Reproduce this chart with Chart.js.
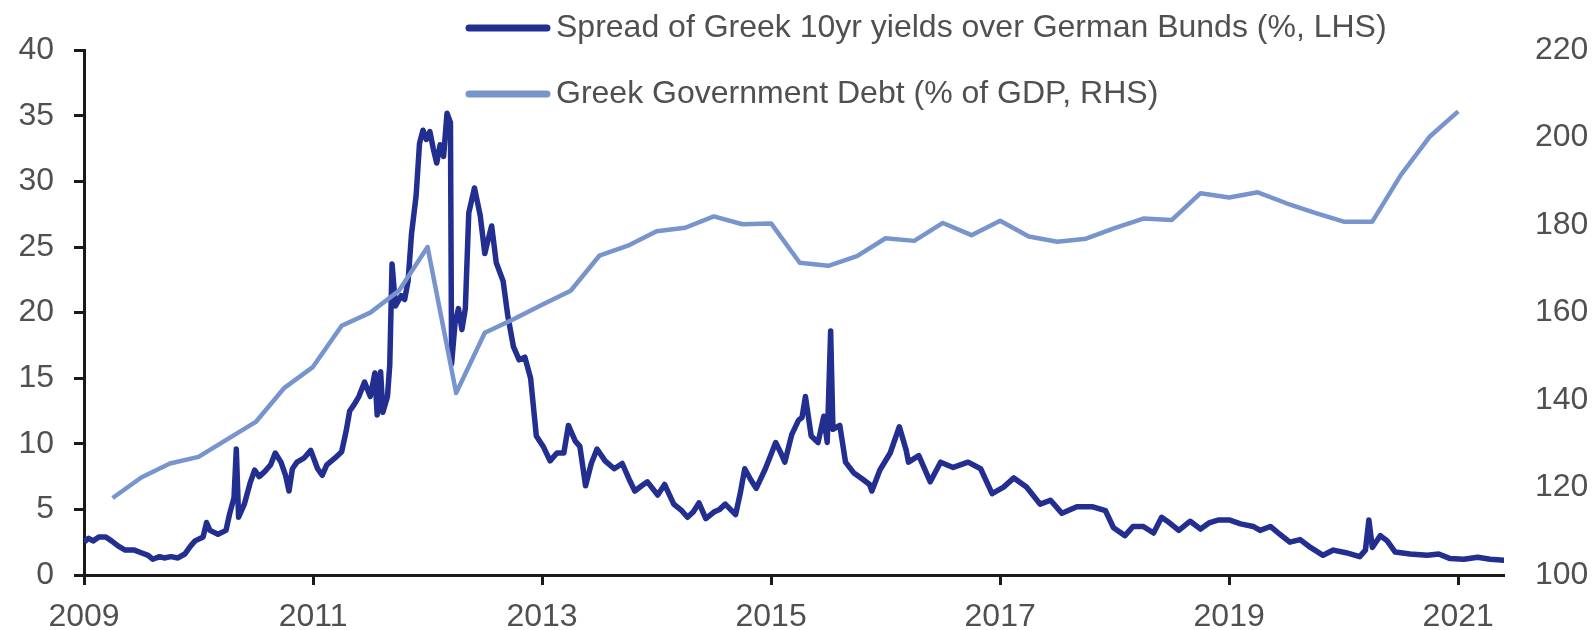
<!DOCTYPE html>
<html>
<head>
<meta charset="utf-8">
<script src="https://cdn.jsdelivr.net/npm/chart.js@4.4.1/dist/chart.umd.min.js"></script>
<style>
  html, body { margin: 0; padding: 0; background: #fff; }
  #wrap { width: 1596px; height: 630px; }
</style>
</head>
<body>
<div id="wrap"><canvas id="chart" width="1596" height="630"></canvas></div>
<script>
// Series names (legend)
const seriesNames = [
  'Spread of Greek 10yr yields over German Bunds (%, LHS)',
  'Greek Government Debt (% of GDP, RHS)'
];

// x-axis tick labels (years)
const yearTicks = [2009, 2011, 2013, 2015, 2017, 2019, 2021];

// Spread of Greek 10yr yields over Bunds, %
const spreadDates = [
  2009.00, 2009.04, 2009.08, 2009.13, 2009.19, 2009.24, 2009.30, 2009.36, 2009.44, 2009.50,
  2009.56, 2009.60, 2009.66, 2009.70, 2009.76, 2009.82, 2009.88, 2009.93, 2009.97, 2010.04,
  2010.07, 2010.10, 2010.17, 2010.24, 2010.27, 2010.31, 2010.33, 2010.35, 2010.40, 2010.45,
  2010.49, 2010.53, 2010.58, 2010.63, 2010.67, 2010.72, 2010.76, 2010.79, 2010.82, 2010.86,
  2010.92, 2010.98, 2011.04, 2011.08, 2011.12, 2011.19, 2011.25, 2011.29, 2011.32, 2011.36,
  2011.40, 2011.45, 2011.50, 2011.54, 2011.56, 2011.59, 2011.61, 2011.65, 2011.67, 2011.69,
  2011.72, 2011.77, 2011.80, 2011.83, 2011.86, 2011.90, 2011.93, 2011.96, 2011.99, 2012.02,
  2012.05, 2012.08, 2012.11, 2012.14, 2012.17, 2012.20, 2012.21, 2012.24, 2012.27, 2012.30,
  2012.33, 2012.36, 2012.41, 2012.46, 2012.50, 2012.53, 2012.56, 2012.60, 2012.66, 2012.70,
  2012.75, 2012.80, 2012.85, 2012.90, 2012.95, 2013.01, 2013.07, 2013.13, 2013.19, 2013.23,
  2013.29, 2013.33, 2013.38, 2013.43, 2013.48, 2013.55, 2013.63, 2013.70, 2013.76, 2013.81,
  2013.87, 2013.92, 2014.01, 2014.07, 2014.15, 2014.22, 2014.27, 2014.32, 2014.37, 2014.43,
  2014.50, 2014.55, 2014.60, 2014.69, 2014.73, 2014.77, 2014.82, 2014.87, 2014.95, 2015.00,
  2015.04, 2015.08, 2015.12, 2015.18, 2015.24, 2015.27, 2015.30, 2015.35, 2015.41, 2015.46,
  2015.49, 2015.52, 2015.54, 2015.60, 2015.65, 2015.72, 2015.80, 2015.86, 2015.88, 2015.95,
  2016.04, 2016.12, 2016.18, 2016.20, 2016.29, 2016.39, 2016.48, 2016.59, 2016.72, 2016.83,
  2016.93, 2017.03, 2017.12, 2017.23, 2017.35, 2017.44, 2017.54, 2017.67, 2017.81, 2017.92,
  2017.99, 2018.09, 2018.16, 2018.25, 2018.34, 2018.41, 2018.46, 2018.56, 2018.66, 2018.75,
  2018.83, 2018.91, 2019.00, 2019.10, 2019.21, 2019.27, 2019.36, 2019.43, 2019.53, 2019.62,
  2019.71, 2019.82, 2019.91, 2020.02, 2020.14, 2020.19, 2020.22, 2020.25, 2020.32, 2020.38,
  2020.45, 2020.58, 2020.73, 2020.83, 2020.93, 2021.05, 2021.17, 2021.28, 2021.41
];
const spreadValues = [
  2.5, 2.8, 2.6, 2.9, 2.9, 2.6, 2.2, 1.9, 1.9, 1.7,
  1.5, 1.2, 1.4, 1.3, 1.4, 1.3, 1.6, 2.2, 2.6, 2.9,
  4.0, 3.4, 3.1, 3.4, 4.6, 5.9, 9.6, 4.4, 5.4, 7.0,
  8.0, 7.5, 7.9, 8.4, 9.3, 8.6, 7.6, 6.4, 8.1, 8.6,
  8.9, 9.5, 8.1, 7.6, 8.4, 8.9, 9.4, 11.0, 12.5, 13.0,
  13.6, 14.7, 13.6, 15.4, 12.2, 15.5, 12.4, 13.6, 16.0, 23.7,
  20.5, 21.3, 21.0, 22.4, 26.0, 28.9, 32.9, 33.9, 33.2, 33.8,
  32.5, 31.4, 32.8, 31.9, 35.2, 34.5, 16.1, 19.2, 20.3, 18.7,
  20.3, 27.6, 29.5, 27.4, 24.5, 25.6, 26.6, 23.8, 22.4, 19.8,
  17.4, 16.4, 16.6, 15.0, 10.6, 9.8, 8.7, 9.3, 9.3, 11.4,
  10.2, 9.8, 6.8, 8.5, 9.6, 8.7, 8.1, 8.5, 7.3, 6.4,
  6.8, 7.1, 6.1, 6.9, 5.4, 4.9, 4.4, 4.8, 5.5, 4.3,
  4.8, 5.0, 5.4, 4.6, 6.2, 8.1, 7.3, 6.6, 8.1, 9.2,
  10.1, 9.4, 8.6, 10.7, 11.8, 12.0, 13.6, 10.6, 10.1, 12.1,
  10.1, 18.6, 11.1, 11.4, 8.6, 7.8, 7.3, 6.9, 6.4, 8.0,
  9.3, 11.3, 9.5, 8.6, 9.1, 7.1, 8.6, 8.2, 8.6, 8.1,
  6.2, 6.7, 7.4, 6.7, 5.4, 5.7, 4.7, 5.2, 5.2, 4.9,
  3.6, 3.0, 3.7, 3.7, 3.2, 4.4, 4.1, 3.4, 4.1, 3.5,
  4.0, 4.2, 4.2, 3.9, 3.7, 3.4, 3.7, 3.2, 2.5, 2.7,
  2.1, 1.5, 1.9, 1.7, 1.4, 1.9, 4.2, 2.1, 3.0, 2.6,
  1.75, 1.6, 1.5, 1.6, 1.25, 1.2, 1.35, 1.2, 1.12
];

// Greek government debt, % of GDP, quarterly
const debtDates = [
  2009.25, 2009.50, 2009.75, 2010.00, 2010.25, 2010.50, 2010.75, 2011.00,
  2011.25, 2011.50, 2011.75, 2012.00, 2012.25, 2012.50, 2012.75, 2013.00,
  2013.25, 2013.50, 2013.75, 2014.00, 2014.25, 2014.50, 2014.75, 2015.00,
  2015.25, 2015.50, 2015.75, 2016.00, 2016.25, 2016.50, 2016.75, 2017.00,
  2017.25, 2017.50, 2017.75, 2018.00, 2018.25, 2018.50, 2018.75, 2019.00,
  2019.25, 2019.50, 2019.75, 2020.00, 2020.25, 2020.50, 2020.75, 2021.00
];
const debtValues = [
  117.6, 122.3, 125.5, 127.0, 131.0, 135.0, 142.8, 147.6,
  157.0, 160.0, 165.0, 175.0, 141.6, 155.4, 158.5, 161.8,
  165.0, 173.0, 175.3, 178.6, 179.4, 182.0, 180.2, 180.4,
  171.4, 170.7, 172.9, 177.0, 176.4, 180.5, 177.7, 181.0,
  177.4, 176.2, 176.9, 179.3, 181.5, 181.2, 187.3, 186.3,
  187.5, 185.0, 182.8, 180.8, 180.8, 191.5, 200.2, 206.0
];

const DARK = '#222e90';
const LIGHT = '#7795cc';
const TEXT = '#505050';
const FONT = '"Liberation Sans", Arial, sans-serif';

function toPoints(xs, ys) {
  return xs.map((x, i) => ({ x: x, y: ys[i] }));
}

// legend drawn at the top, two rows, line sample + text
const topLegend = {
  id: 'topLegend',
  afterDraw(chart) {
    const ctx = chart.ctx;
    const rows = [28, 94];
    ctx.save();
    ctx.font = '32px ' + FONT;
    ctx.textBaseline = 'middle';
    ctx.textAlign = 'left';
    chart.data.datasets.forEach((ds, i) => {
      const y = rows[i];
      ctx.strokeStyle = ds.borderColor;
      ctx.lineWidth = 7;
      ctx.lineCap = 'round';
      ctx.beginPath();
      ctx.moveTo(469, y);
      ctx.lineTo(547, y);
      ctx.stroke();
      ctx.fillStyle = TEXT;
      ctx.fillText(ds.label, 556, y);
    });
    ctx.restore();
  }
};

new Chart(document.getElementById('chart'), {
  type: 'line',
  data: {
    datasets: [
      {
        label: seriesNames[0],
        data: toPoints(spreadDates, spreadValues),
        yAxisID: 'y',
        borderColor: DARK,
        borderWidth: 5.5,
        borderJoinStyle: 'round',
        pointRadius: 0,
        tension: 0,
        order: 1
      },
      {
        label: seriesNames[1],
        data: toPoints(debtDates, debtValues),
        yAxisID: 'y1',
        borderColor: LIGHT,
        borderWidth: 4.5,
        borderJoinStyle: 'round',
        pointRadius: 0,
        tension: 0,
        order: 0
      }
    ]
  },
  options: {
    responsive: false,
    animation: false,
    layout: { padding: { top: 40, left: 0, right: 0, bottom: 0 } },
    plugins: {
      legend: { display: false },
      tooltip: { enabled: false }
    },
    scales: {
      x: {
        type: 'linear',
        min: 2009,
        max: 2021.4,
        afterBuildTicks: (scale) => {
          scale.ticks = yearTicks.map(v => ({ value: v }));
        },
        afterFit: (scale) => { scale.height = 55; },
        border: { display: true, color: '#1a1a1a', width: 3 },
        grid: { drawOnChartArea: false, drawTicks: true, tickLength: 10, tickColor: '#1a1a1a', tickWidth: 3 },
        ticks: {
          autoSkip: false,
          maxRotation: 0,
          padding: 13,
          color: TEXT,
          font: { family: FONT, size: 32 },
          callback: (v) => String(v)
        }
      },
      y: {
        position: 'left',
        min: 0,
        max: 40,
        afterFit: (scale) => { scale.width = 84; },
        border: { display: true, color: '#1a1a1a', width: 3 },
        grid: { drawOnChartArea: false, drawTicks: true, tickLength: 10, tickColor: '#1a1a1a', tickWidth: 3 },
        ticks: {
          stepSize: 5,
          padding: 20,
          color: TEXT,
          font: { family: FONT, size: 32 }
        }
      },
      y1: {
        position: 'right',
        min: 100,
        max: 220,
        afterFit: (scale) => { scale.width = 92; },
        border: { display: false },
        grid: { display: false, drawTicks: false },
        ticks: {
          stepSize: 20,
          padding: 31,
          color: TEXT,
          font: { family: FONT, size: 32 }
        }
      }
    }
  },
  plugins: [topLegend]
});
</script>
</body>
</html>
